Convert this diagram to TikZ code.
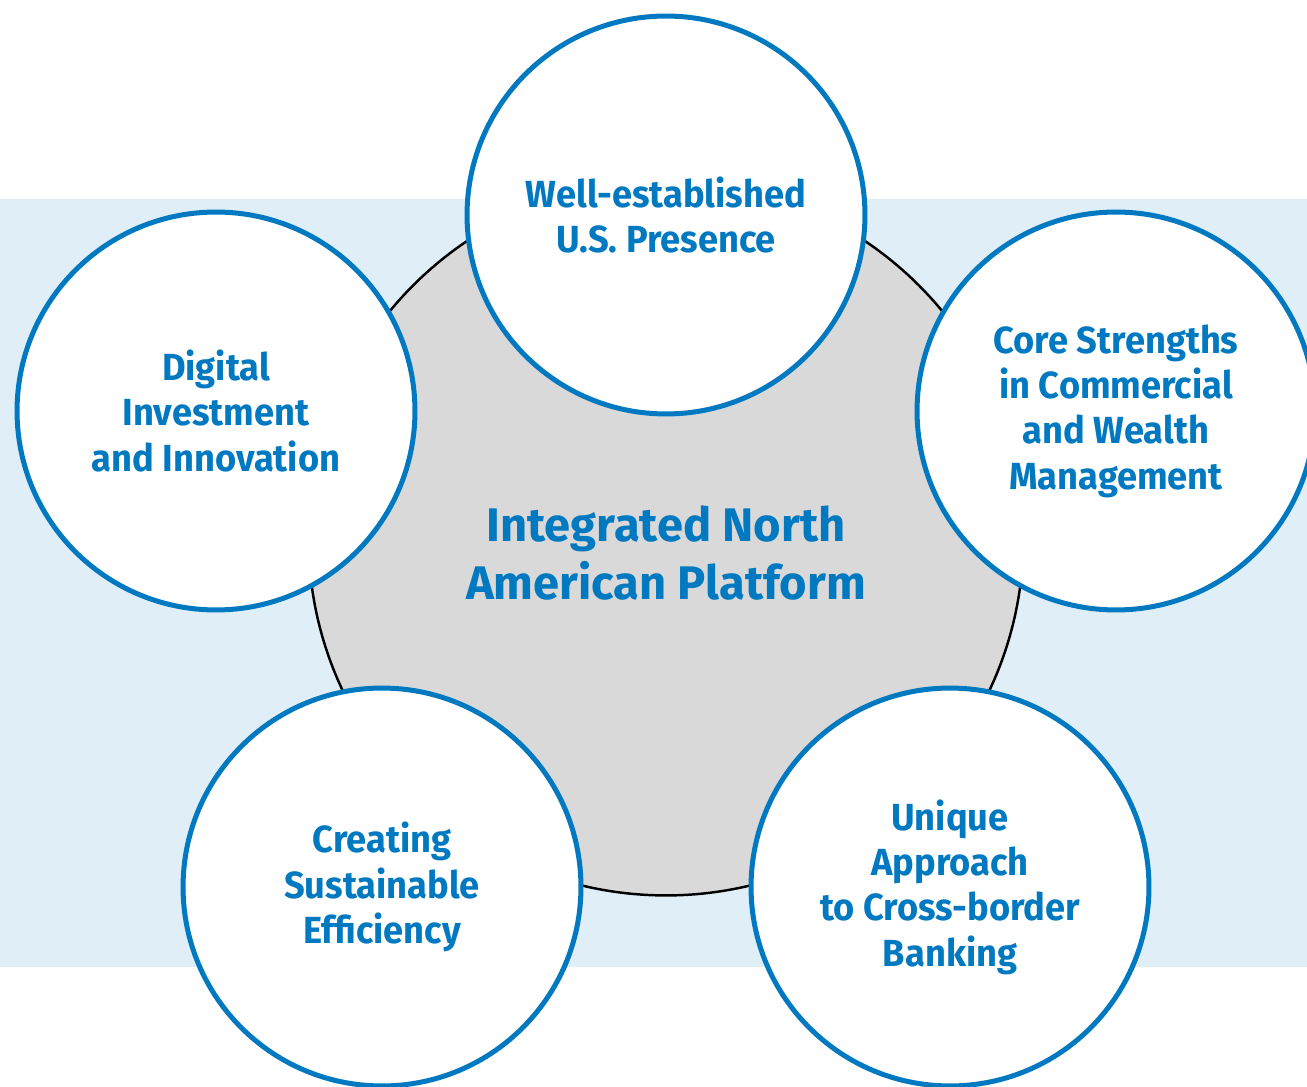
\documentclass[tikz,border=0pt]{standalone}
\usepackage{fontspec}
\setmainfont{Fira Sans}
\newfontfamily\bubblefont{Fira Sans}[FakeStretch=0.96]
\usetikzlibrary{positioning}
\definecolor{bmoblue}{HTML}{0079C1}
\definecolor{bandblue}{HTML}{E0EEF8}
\definecolor{hubgray}{HTML}{D9D9D9}
\tikzset{
  bubble/.style={circle,draw=bmoblue,line width=2.85pt,fill=white,
    minimum size=7.96cm,inner sep=0pt,align=center,text=bmoblue,
    font=\bubblefont\bfseries\fontsize{21.5}{25.8}\selectfont},
  hub/.style={circle,draw=black,line width=1.4pt,fill=hubgray,
    minimum size=14.3cm,inner sep=0pt},
  hubtext/.style={align=center,text=bmoblue,
    font=\bfseries\fontsize{26.8}{33}\selectfont}
}

\begin{document}
\begin{tikzpicture}[x=0.02cm,y=-0.02cm]
\useasboundingbox (0,0) rectangle (1307,1087);
\clip (0,0) rectangle (1307,1087);

% Centres
\coordinate (H) at (666,538);
\coordinate (T) at (666,215);
\coordinate (L) at (216,411);
\coordinate (R) at (1116,411);
\coordinate (BL) at (382,887);
\coordinate (BR) at (950,887);

% Band behind everything
\fill[bandblue] (0,199) rectangle (1307,967);

% Hub
\node[hub] (hub) at (H) {};
\node[hubtext] (hublabel) at (666,553) {Integrated North\\American Platform};

% Bubbles round the hub
\node[bubble] (top) at (T) {Well-established\\U.S. Presence};
\node[bubble] (left) at (L) {Digital\\Investment\\and Innovation};
\node[bubble] (right) at (R) {Core Strengths\\in Commercial\\and Wealth\\Management};
\node[bubble] (botleft) at (BL) {Creating\\Sustainable\\Efficiency};
\node[bubble] (botright) at (BR) {Unique\\Approach\\to Cross-border\\Banking};
\end{tikzpicture}
\end{document}
